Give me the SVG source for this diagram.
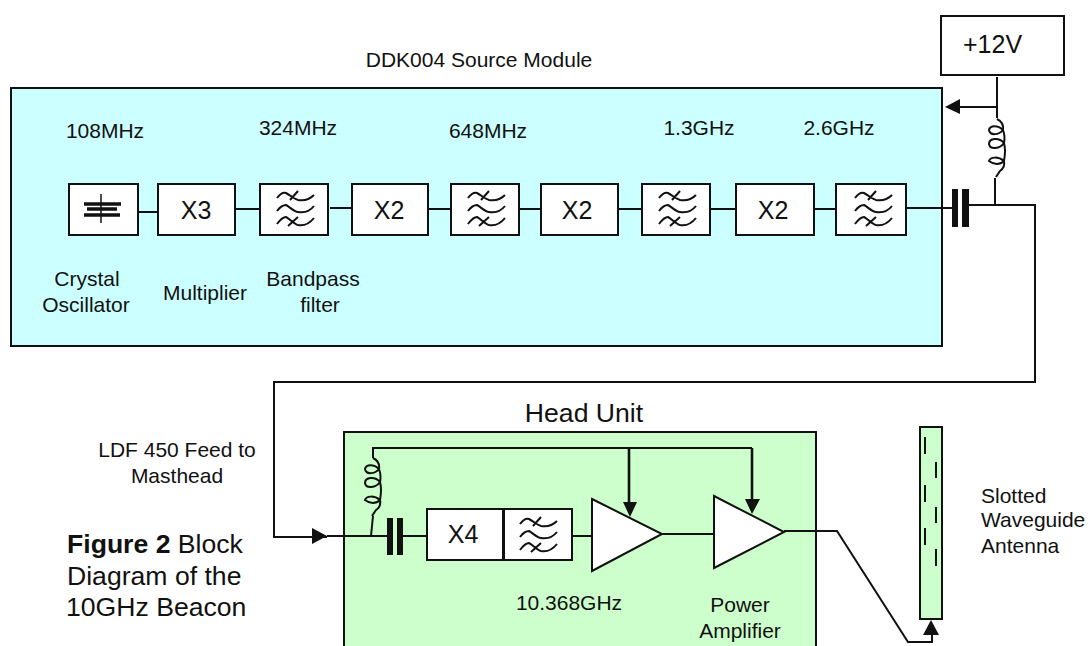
<svg xmlns="http://www.w3.org/2000/svg" width="1088" height="646" viewBox="0 0 1088 646">
<style>
text{font-family:"Liberation Sans",Arial,sans-serif;fill:#111;font-size:21px}
.c{text-anchor:middle}
.b{fill:#fff;stroke:#111;stroke-width:2}
.w{fill:none;stroke:#111;stroke-width:2}
.s{fill:none;stroke:#111;stroke-width:2.6}
.t{fill:none;stroke:#111;stroke-width:2}
.x{font-size:25px}
.big{font-size:26.6px}
</style>
<defs>
<g id="flt"><path class="t" d="M-18-11C-15-15-12-17-9-16C-5-14-1-10 3-9C9-8 15-10 19-14M-18 2C-15-2-12-4-9-4C-5-2-1 3 3 3C9 4 15 2 19-3M-18 15C-15 11-12 8-9 8C-5 10-1 15 3 16C9 17 15 14 19 9M3-18L-5-9M3 8L-7 17"/></g>
<g id="ind"><path class="t" d="M0 0C4 2 7 5 6 11C1 6-7 6-8 11C-7 17 2 16 6 11C8 16 8 19 7 24C2 18-8 19-8 25C-7 31 3 30 7 24C9 31 8 36 7 42C1 37-7 38-8 42C-3 46 3 46 7 42C8 47 6 50 3 52L-1 58"/></g>
</defs>
<g id="source-module"><rect x="11" y="88" width="931" height="258" fill="#ccffff" stroke="#111" stroke-width="2"/></g>
<g id="head-unit"><rect x="344" y="432" width="472" height="216" fill="#ccffcc" stroke="#111" stroke-width="2"/></g>
<g id="connectors">
<path class="w" d="M138 212H160M235 209H260M330 208H352M428 209H451M519 209H541M618 209H642M710 209H736M814 209H836M906 208H952"/>
<path class="w" d="M969 205H1035V382H274V537H327M327 536H387M997 77V118M995 178V205M997 107H960"/>
<path class="w" d="M371 536L373 516M373 458V448H629M629 448H752"/>
<path class="s" d="M752 448V499M629 448V502"/>
<path class="w" d="M403 536H427M571 536H592M662 534H714M784 531H837L908 642H932V633"/>
<path d="M945 107L960 99V114Z" fill="#111"/>
<path d="M327 536L312 528V544Z" fill="#111"/>
<path d="M630 517L623 502H637Z" fill="#111"/>
<path d="M752 514L745 499H760Z" fill="#111"/>
<path d="M931 620L923 635H939Z" fill="#111"/>
</g>
<g id="crystal"><rect class="b" x="69" y="184" width="69" height="51"/><path d="M84 204H121M87 209H117M84 215H120" stroke="#111" stroke-width="3.500"/><path d="M101 194V223" stroke="#111" stroke-width="1.5"/></g>
<g id="x3"><rect class="b" x="158" y="184" width="77" height="51"/><text class="c x" x="196" y="219">X3</text></g>
<g id="f1"><rect class="b" x="260" y="184" width="68" height="51"/><use href="#flt" x="295" y="209"/></g>
<g id="x2a"><rect class="b" x="352" y="184" width="76" height="51"/><text class="c x" x="389" y="219">X2</text></g>
<g id="f2"><rect class="b" x="451" y="184" width="68" height="51"/><use href="#flt" x="486" y="209"/></g>
<g id="x2b"><rect class="b" x="541" y="184" width="77" height="51"/><text class="c x" x="577" y="219">X2</text></g>
<g id="f3"><rect class="b" x="642" y="184" width="68" height="51"/><use href="#flt" x="677" y="209"/></g>
<g id="x2c"><rect class="b" x="736" y="184" width="78" height="51"/><text class="c x" x="773" y="219">X2</text></g>
<g id="f4"><rect class="b" x="836" y="184" width="70" height="51"/><use href="#flt" x="873" y="209"/></g>
<g id="cap1"><rect x="952" y="189" width="6" height="38" fill="#111"/><rect x="962" y="189" width="7" height="38" fill="#111"/></g>
<g id="ind1"><use href="#ind" x="997" y="119"/></g>
<g id="psu"><rect x="941" y="16" width="123" height="59" fill="#fff" stroke="#111" stroke-width="2"/><text class="x" x="963" y="53">+12V</text></g>
<g id="ind2"><use href="#ind" x="373" y="458"/></g>
<g id="cap2"><rect x="387" y="518" width="6" height="37" fill="#111"/><rect x="397" y="518" width="6" height="37" fill="#111"/></g>
<g id="x4"><rect class="b" x="427" y="509" width="76" height="51"/><text class="c x" x="463" y="543">X4</text></g>
<g id="f5"><rect class="b" x="504" y="509" width="68" height="51"/><path d="M503.500 509V560" stroke="#111" stroke-width="3"/><use href="#flt" x="538" y="535"/></g>
<g id="amp1"><path d="M592 499L662 534L592 571Z" fill="#fff" stroke="#111" stroke-width="2"/></g>
<g id="amp2"><path d="M714 496L784 532L714 568Z" fill="#fff" stroke="#111" stroke-width="2"/></g>
<g id="antenna"><rect x="920" y="427" width="22" height="192" fill="#ccffcc" stroke="#111" stroke-width="2"/><path class="w" d="M925 437V454M936 462V478M925 485V502M936 507V523M925 528V545M936 549V566"/></g>
<g id="labels">
<text class="c" x="479" y="67">DDK004 Source Module</text>
<text class="c" x="105" y="138">108MHz</text>
<text class="c" x="298" y="135">324MHz</text>
<text class="c" x="488" y="138">648MHz</text>
<text class="c" x="699" y="135">1.3GHz</text>
<text class="c" x="839" y="135">2.6GHz</text>
<text class="c" x="87" y="286">Crystal</text><text class="c" x="86" y="312">Oscillator</text>
<text class="c" x="205" y="300">Multiplier</text>
<text class="c" x="313" y="286">Bandpass</text><text class="c" x="320" y="312">filter</text>
<text class="c big" x="584" y="422">Head Unit</text>
<text class="c" x="177" y="457">LDF 450 Feed to</text><text class="c" x="177" y="483">Masthead</text>
<text class="big" x="67" y="553"><tspan font-weight="bold">Figure 2</tspan> Block</text>
<text class="big" x="67" y="585">Diagram of the</text>
<text class="big" x="66" y="616">10GHz Beacon</text>
<text class="c" x="569" y="610">10.368GHz</text>
<text class="c" x="740" y="612">Power</text><text class="c" x="740" y="638">Amplifier</text>
<text x="981" y="503">Slotted</text><text x="981" y="527">Waveguide</text><text x="981" y="553">Antenna</text>
</g>
</svg>
